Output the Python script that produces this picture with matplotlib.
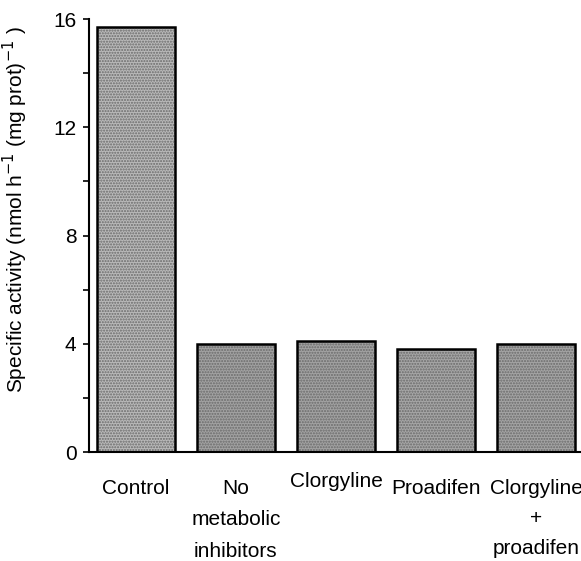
import matplotlib.pyplot as plt
import matplotlib.transforms as mtransforms
import numpy as np

# data
labels = ["Control", "No\nmetabolic\ninhibitors", "Clorgyline", "Proadifen",
          "Clorgyline\n+\nproadifen"]
activity = [15.7, 4.0, 4.1, 3.8, 4.0]
shades = ["#b9b9b9", "#a2a2a2", "#a2a2a2", "#a6a6a6", "#a4a4a4"]

plt.rcParams['font.family'] = ['Liberation Sans', 'DejaVu Sans']

fig = plt.figure(figsize=(5.81, 5.61), dpi=100)
ax = fig.add_axes([0.153, 0.194, 0.847, 0.772])

x = np.arange(len(activity))
# stippled fill, then black outline on top
ax.bar(x, activity, width=0.78, color=shades, edgecolor="#6a6a6a",
       hatch="......", linewidth=0)
ax.bar(x, activity, width=0.78, fill=False, edgecolor="black", linewidth=1.8)

ax.set_xlim(-0.47, 4.45)
ax.set_ylim(0, 16)
ax.set_yticks([0, 4, 8, 12, 16])
ax.set_yticks([2, 6, 10, 14], minor=True)
ax.set_xticks(x)
ax.set_xticklabels(labels, fontsize=15, linespacing=1.85)

ax.tick_params(axis="x", length=0, pad=19)
ax.tick_params(axis="y", which="both", direction="out", length=4, width=1.2,
               labelsize=15, pad=5)

ticklabels = ax.get_xticklabels()
# the single-line "Clorgyline" sits a little higher in the original
lift = mtransforms.ScaledTranslation(0, 5 / 72, fig.dpi_scale_trans)
ticklabels[2].set_transform(ticklabels[2].get_transform() + lift)
# last label is set a bit tighter
ticklabels[4].set_linespacing(1.75)

for side in ["top", "right"]:
    ax.spines[side].set_visible(False)
ax.spines["left"].set_linewidth(1.5)
ax.spines["bottom"].set_linewidth(1.5)

ax.set_ylabel("Specific activity (nmol h$^{-1}$ (mg prot)$^{-1}$ )", fontsize=15)
ax.yaxis.set_label_coords(-0.12, 0.56)

fig.savefig("out.png", dpi=100)
